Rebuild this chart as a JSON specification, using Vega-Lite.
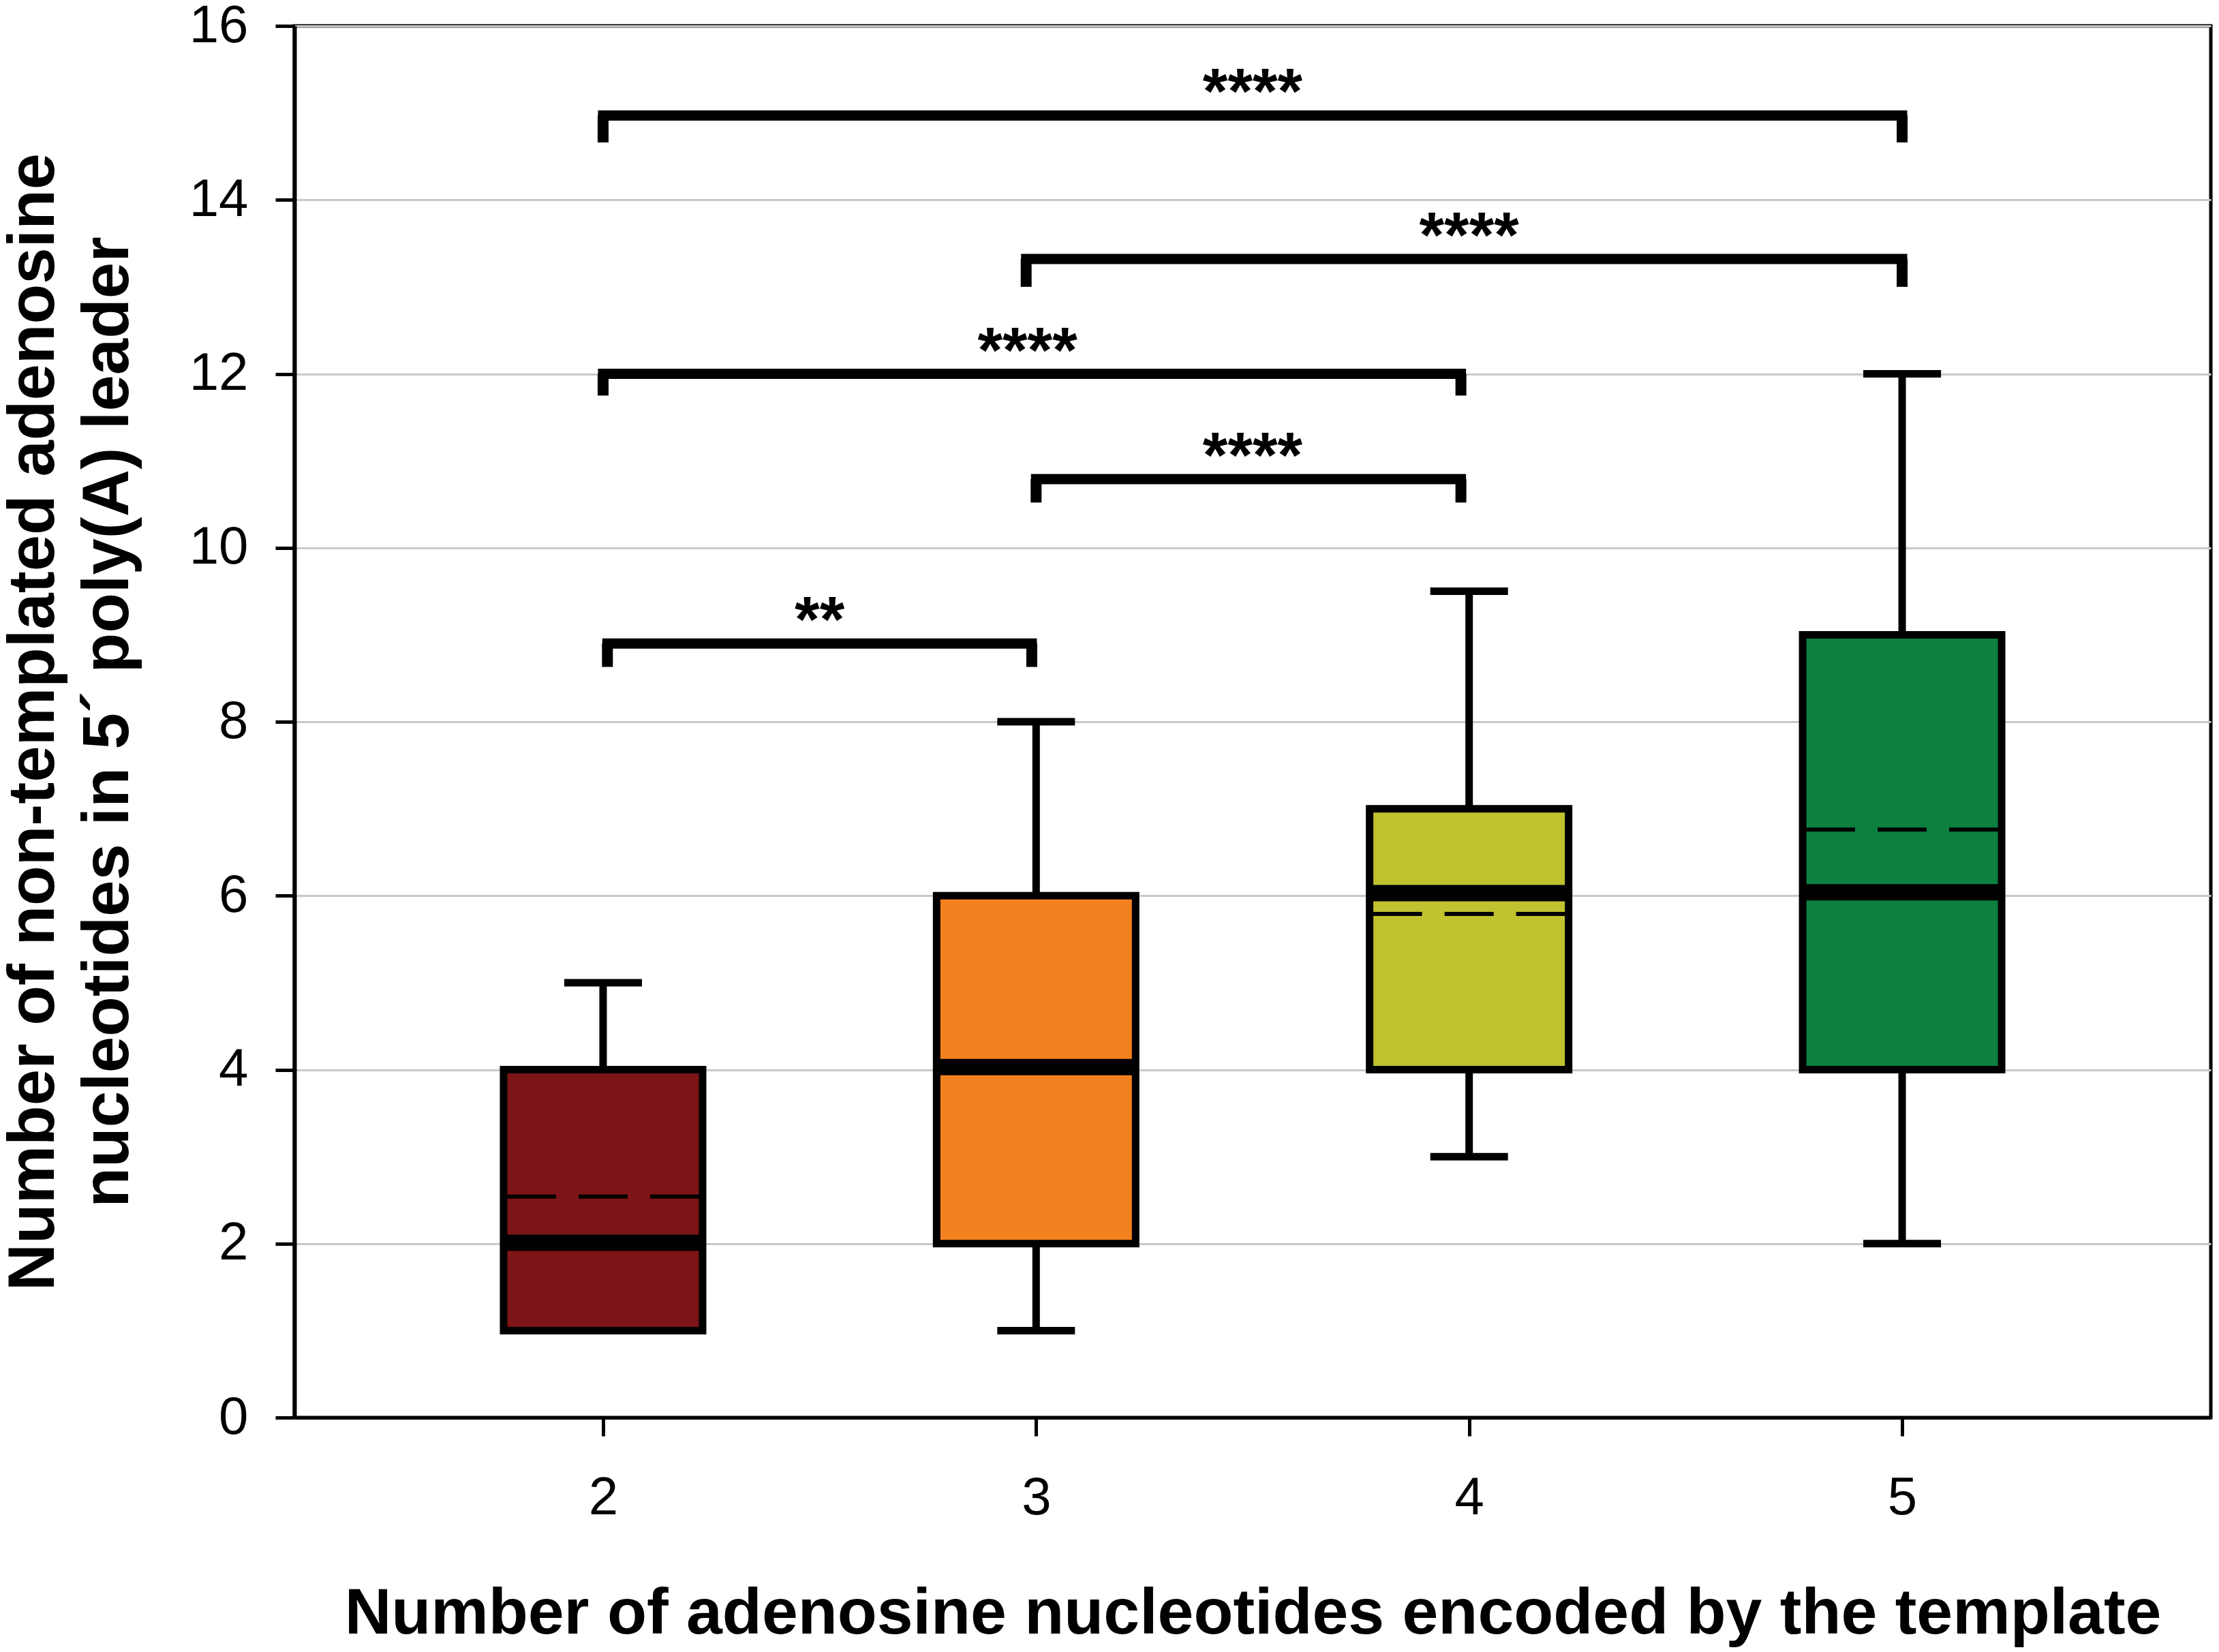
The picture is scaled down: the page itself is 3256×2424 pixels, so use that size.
{
  "$schema": "https://vega.github.io/schema/vega-lite/v6.json",
  "width": 2812,
  "height": 2042,
  "autosize": {"type": "none"},
  "padding": {"left": 432, "top": 38, "right": 12, "bottom": 344},
  "background": "white",
  "config": {
    "font": "Liberation Sans",
    "view": {"stroke": "black", "strokeWidth": 5},
    "axisX": {
      "grid": false,
      "domainColor": "black",
      "domainWidth": 5,
      "tickColor": "black",
      "tickWidth": 5,
      "tickSize": 27,
      "labelFontSize": 78,
      "labelColor": "black",
      "labelBaseline": "alphabetic",
      "labelPadding": 114,
      "titleFontSize": 95,
      "titleFontWeight": "bold",
      "titleColor": "black",
      "titleBaseline": "alphabetic",
      "titleAlign": "center",
      "titleX": 1406,
      "titleY": 316
    },
    "axisY": {
      "grid": true,
      "gridColor": "#c8c8c8",
      "gridWidth": 3,
      "domainColor": "black",
      "domainWidth": 6,
      "tickColor": "black",
      "tickWidth": 5,
      "tickSize": 28,
      "labelFontSize": 78,
      "labelColor": "black",
      "labelPadding": 40,
      "titleFontSize": 96,
      "titleFontWeight": "bold",
      "titleColor": "black",
      "titleAngle": 270,
      "titleBaseline": "alphabetic",
      "titleAlign": "center",
      "titleLineHeight": 109,
      "titleX": -354,
      "titleY": 1021
    }
  },
  "datasets": {
    "boxes": [
      {"n": 2, "grp": "2", "min": 1, "q1": 1, "median": 2.01, "q3": 4, "max": 5, "mean": 2.54},
      {"n": 3, "grp": "3", "min": 1, "q1": 2, "median": 4.03, "q3": 6, "max": 8, "mean": 4.03},
      {"n": 4, "grp": "4", "min": 3, "q1": 4, "median": 6.03, "q3": 7, "max": 9.5, "mean": 5.79},
      {"n": 5, "grp": "5", "min": 2, "q1": 4, "median": 6.04, "q3": 9, "max": 12, "mean": 6.76}
    ],
    "brackets": [
      {"from": 2.0, "to": 5.0, "y": 14.97, "low": 14.66, "mid": 3.5, "label": "****"},
      {"from": 2.977, "to": 5.0, "y": 13.32, "low": 13.0, "mid": 4.0, "label": "****"},
      {"from": 2.0, "to": 3.981, "y": 12.0, "low": 11.75, "mid": 2.98, "label": "****"},
      {"from": 3.0, "to": 3.981, "y": 10.79, "low": 10.52, "mid": 3.5, "label": "****"},
      {"from": 2.01, "to": 2.99, "y": 8.9, "low": 8.63, "mid": 2.5, "label": "**"}
    ]
  },
  "layer": [
    {
      "data": {"name": "boxes"},
      "mark": {"type": "rule", "color": "black", "strokeWidth": 11},
      "encoding": {
        "x": {
          "field": "n",
          "type": "quantitative",
          "scale": {"domain": [1.295, 5.705], "nice": false, "zero": false},
          "axis": {
            "values": [2, 3, 4, 5],
            "format": "d",
            "title": "Number of adenosine nucleotides encoded by the template"
          }
        },
        "y": {
          "field": "min",
          "type": "quantitative",
          "scale": {"domain": [0, 16], "nice": false},
          "axis": {
            "values": [0, 2, 4, 6, 8, 10, 12, 14, 16],
            "format": "d",
            "title": ["Number of non-templated adenosine", "nucleotides in 5´ poly(A) leader"]
          }
        },
        "y2": {"field": "max"}
      }
    },
    {
      "data": {"name": "boxes"},
      "mark": {"type": "tick", "orient": "horizontal", "color": "black", "size": 114, "thickness": 11, "opacity": 1},
      "encoding": {
        "x": {"field": "n", "type": "quantitative"},
        "y": {"field": "max", "type": "quantitative"}
      }
    },
    {
      "data": {"name": "boxes"},
      "mark": {"type": "tick", "orient": "horizontal", "color": "black", "size": 114, "thickness": 11, "opacity": 1},
      "encoding": {
        "x": {"field": "n", "type": "quantitative"},
        "y": {"field": "min", "type": "quantitative"}
      }
    },
    {
      "data": {"name": "boxes"},
      "mark": {"type": "bar", "width": 292, "stroke": "black", "strokeWidth": 11, "opacity": 1},
      "encoding": {
        "x": {"field": "n", "type": "quantitative"},
        "y": {"field": "q1", "type": "quantitative"},
        "y2": {"field": "q3"},
        "color": {
          "field": "grp",
          "type": "nominal",
          "scale": {"domain": ["2", "3", "4", "5"], "range": ["#7d1417", "#f48120", "#c0c22f", "#0d8040"]},
          "legend": null
        }
      }
    },
    {
      "data": {"name": "boxes"},
      "mark": {"type": "rule", "color": "black", "strokeWidth": 6, "strokeDash": [72, 33], "xOffset": -141, "x2Offset": 141},
      "encoding": {
        "x": {"field": "n", "type": "quantitative"},
        "x2": {"field": "n"},
        "y": {"field": "mean", "type": "quantitative"}
      }
    },
    {
      "data": {"name": "boxes"},
      "mark": {"type": "tick", "orient": "horizontal", "color": "black", "size": 292, "thickness": 24, "opacity": 1},
      "encoding": {
        "x": {"field": "n", "type": "quantitative"},
        "y": {"field": "median", "type": "quantitative"}
      }
    },
    {
      "data": {"name": "brackets"},
      "mark": {"type": "rule", "color": "black", "strokeWidth": 15, "strokeCap": "square"},
      "encoding": {
        "x": {"field": "from", "type": "quantitative"},
        "x2": {"field": "to"},
        "y": {"field": "y", "type": "quantitative"}
      }
    },
    {
      "data": {"name": "brackets"},
      "mark": {"type": "rule", "color": "black", "strokeWidth": 16},
      "encoding": {
        "x": {"field": "from", "type": "quantitative"},
        "y": {"field": "y", "type": "quantitative"},
        "y2": {"field": "low"}
      }
    },
    {
      "data": {"name": "brackets"},
      "mark": {"type": "rule", "color": "black", "strokeWidth": 16},
      "encoding": {
        "x": {"field": "to", "type": "quantitative"},
        "y": {"field": "y", "type": "quantitative"},
        "y2": {"field": "low"}
      }
    },
    {
      "data": {"name": "brackets"},
      "mark": {"type": "text", "color": "black", "fontSize": 94, "fontWeight": "bold", "align": "center", "baseline": "alphabetic", "dy": -3},
      "encoding": {
        "x": {"field": "mid", "type": "quantitative"},
        "y": {"field": "y", "type": "quantitative"},
        "text": {"field": "label"}
      }
    }
  ]
}
